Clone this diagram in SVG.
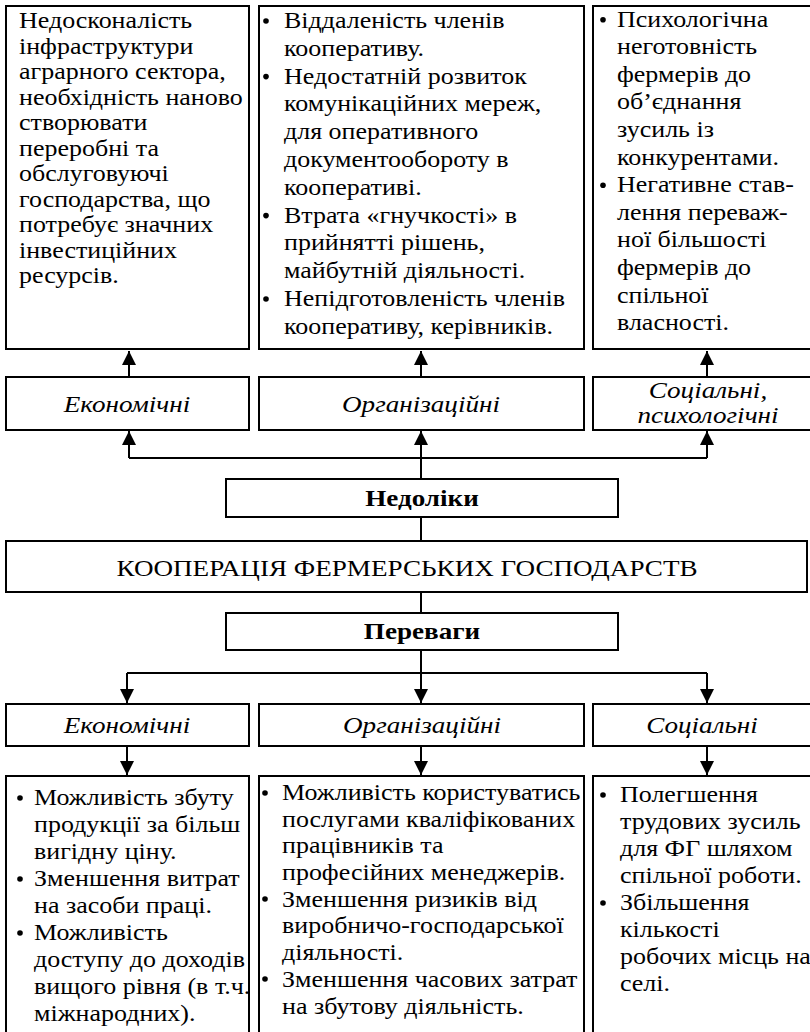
<svg xmlns="http://www.w3.org/2000/svg" width="810" height="1032" viewBox="0 0 810 1032">
<style>
.box{fill:#fff;stroke:#000;stroke-width:2}
.t{font-family:'Liberation Serif','Times New Roman',serif;font-size:23px;fill:#000}
.i{font-style:italic;text-anchor:middle;font-size:24px}
.b{font-weight:bold;text-anchor:middle;font-size:24px}
.c{text-anchor:middle;font-size:24px}
.ln{fill:none;stroke:#000;stroke-width:2}
.dot{fill:#000}
</style>
<defs>
<marker id="ah" markerUnits="userSpaceOnUse" markerWidth="15" markerHeight="15" refX="14" refY="7" orient="auto"><path d="M0,0 L14,7 L0,14 z" fill="#000"/></marker>
</defs>
<rect width="810" height="1032" fill="#fff"/>

<g id="connectors">
<path class="ln" d="M129,377 V351" marker-end="url(#ah)"/>
<path class="ln" d="M421,377 V351" marker-end="url(#ah)"/>
<path class="ln" d="M707,377 V351" marker-end="url(#ah)"/>
<path class="ln" d="M129,458 H707"/>
<path class="ln" d="M129,458 V431" marker-end="url(#ah)"/>
<path class="ln" d="M707,458 V431" marker-end="url(#ah)"/>
<path class="ln" d="M421,479 V431" marker-end="url(#ah)"/>
<path class="ln" d="M421,517 V541"/>
<path class="ln" d="M421,592 V613"/>
<path class="ln" d="M421,650 V703" marker-end="url(#ah)"/>
<path class="ln" d="M127,673 H707"/>
<path class="ln" d="M127,673 V703" marker-end="url(#ah)"/>
<path class="ln" d="M707,673 V703" marker-end="url(#ah)"/>
<path class="ln" d="M127,746 V775" marker-end="url(#ah)"/>
<path class="ln" d="M421,746 V775" marker-end="url(#ah)"/>
<path class="ln" d="M707,746 V775" marker-end="url(#ah)"/>
</g>

<g id="top-econ-content">
<rect class="box" x="6" y="6" width="243" height="343"/>
<text class="t" transform="matrix(1.13 0 0 1 -2.47 0)">
<tspan x="19" y="28.5">Недосконалість</tspan>
<tspan x="19" y="54">інфраструктури</tspan>
<tspan x="19" y="79.5">аграрного сектора,</tspan>
<tspan x="19" y="105">необхідність наново</tspan>
<tspan x="19" y="130.5">створювати</tspan>
<tspan x="19" y="156">переробні та</tspan>
<tspan x="19" y="181.5">обслуговуючі</tspan>
<tspan x="19" y="207">господарства, що</tspan>
<tspan x="19" y="232.5">потребує значних</tspan>
<tspan x="19" y="258">інвестиційних</tspan>
<tspan x="19" y="283.5">ресурсів.</tspan>
</text>
</g>

<g id="top-org-content">
<rect class="box" x="259" y="6" width="325" height="343"/>
<circle class="dot" cx="266" cy="21" r="2.8"/>
<circle class="dot" cx="266" cy="76.6" r="2.8"/>
<circle class="dot" cx="266" cy="215.6" r="2.8"/>
<circle class="dot" cx="266" cy="299" r="2.8"/>
<text class="t" transform="matrix(1.13 0 0 1 -36.92 0)">
<tspan x="284" y="28">Віддаленість членів</tspan>
<tspan x="284" y="55.8">кооперативу.</tspan>
<tspan x="284" y="83.6">Недостатній розвиток</tspan>
<tspan x="284" y="111.4">комунікаційних мереж,</tspan>
<tspan x="284" y="139.2">для оперативного</tspan>
<tspan x="284" y="167">документообороту в</tspan>
<tspan x="284" y="194.8">кооперативі.</tspan>
<tspan x="284" y="222.6">Втрата «гнучкості» в</tspan>
<tspan x="284" y="250.4">прийнятті рішень,</tspan>
<tspan x="284" y="278.2">майбутній діяльності.</tspan>
<tspan x="284" y="306">Непідготовленість членів</tspan>
<tspan x="284" y="333.8">кооперативу, керівників.</tspan>
</text>
</g>

<g id="top-soc-content">
<rect class="box" x="593" y="6" width="220" height="343"/>
<circle class="dot" cx="603" cy="19.7" r="2.8"/>
<circle class="dot" cx="603" cy="185.3" r="2.8"/>
<text class="t" transform="matrix(1.13 0 0 1 -80.21 0)">
<tspan x="617" y="26.7">Психологічна</tspan>
<tspan x="617" y="54.3">неготовність</tspan>
<tspan x="617" y="81.9">фермерів до</tspan>
<tspan x="617" y="109.5">об’єднання</tspan>
<tspan x="617" y="137.1">зусиль із</tspan>
<tspan x="617" y="164.7">конкурентами.</tspan>
<tspan x="617" y="192.3">Негативне став-</tspan>
<tspan x="617" y="219.9">лення переваж-</tspan>
<tspan x="617" y="247.5">ної більшості</tspan>
<tspan x="617" y="275.1">фермерів до</tspan>
<tspan x="617" y="302.7">спільної</tspan>
<tspan x="617" y="330.3">власності.</tspan>
</text>
</g>

<g id="top-econ-label">
<rect class="box" x="6" y="377" width="243" height="53"/>
<text class="t i" x="127" y="412" transform="matrix(1.13 0 0 1 -16.51 0)">Економічні</text>
</g>
<g id="top-org-label">
<rect class="box" x="259" y="377" width="325" height="53"/>
<text class="t i" x="421" y="412" transform="matrix(1.13 0 0 1 -54.73 0)">Організаційні</text>
</g>
<g id="top-soc-label">
<rect class="box" x="593" y="377" width="220" height="53"/>
<text class="t i" x="708" y="398" transform="matrix(1.13 0 0 1 -92.04 0)">Соціальні,</text>
<text class="t i" x="708" y="423" transform="matrix(1.13 0 0 1 -92.04 0)">психологічні</text>
</g>

<g id="nedoliky">
<rect class="box" x="226" y="479" width="392" height="38"/>
<text class="t b" x="422" y="506" transform="matrix(1.13 0 0 1 -54.86 0)">Недоліки</text>
</g>

<g id="kooperatsiia">
<rect class="box" x="6" y="541" width="801" height="51"/>
<text class="t c" x="407" y="576" transform="matrix(1.13 0 0 1 -52.91 0)">КООПЕРАЦІЯ ФЕРМЕРСЬКИХ ГОСПОДАРСТВ</text>
</g>

<g id="perevagy">
<rect class="box" x="226" y="613" width="392" height="37"/>
<text class="t b" x="422" y="639" transform="matrix(1.13 0 0 1 -54.86 0)">Переваги</text>
</g>

<g id="bot-econ-label">
<rect class="box" x="6" y="704" width="243" height="42"/>
<text class="t i" x="127" y="733" transform="matrix(1.13 0 0 1 -16.51 0)">Економічні</text>
</g>
<g id="bot-org-label">
<rect class="box" x="259" y="704" width="325" height="42"/>
<text class="t i" x="422" y="733" transform="matrix(1.13 0 0 1 -54.86 0)">Організаційні</text>
</g>
<g id="bot-soc-label">
<rect class="box" x="593" y="704" width="220" height="42"/>
<text class="t i" x="702" y="733" transform="matrix(1.13 0 0 1 -91.26 0)">Соціальні</text>
</g>

<g id="bot-econ-content">
<rect class="box" x="6" y="776" width="243" height="270"/>
<circle class="dot" cx="20" cy="798" r="2.8"/>
<circle class="dot" cx="20" cy="879" r="2.8"/>
<circle class="dot" cx="20" cy="933" r="2.8"/>
<text class="t" transform="matrix(1.13 0 0 1 -4.42 0)">
<tspan x="34" y="805">Можливість збуту</tspan>
<tspan x="34" y="832">продукції за більш</tspan>
<tspan x="34" y="859">вигідну ціну.</tspan>
<tspan x="34" y="886">Зменшення витрат</tspan>
<tspan x="34" y="913">на засоби праці.</tspan>
<tspan x="34" y="940">Можливість</tspan>
<tspan x="34" y="967">доступу до доходів</tspan>
<tspan x="34" y="994">вищого рівня (в т.ч.</tspan>
<tspan x="34" y="1021">міжнародних).</tspan>
</text>
</g>

<g id="bot-org-content">
<rect class="box" x="259" y="776" width="325" height="270"/>
<circle class="dot" cx="265" cy="793" r="2.8"/>
<circle class="dot" cx="265" cy="899" r="2.8"/>
<circle class="dot" cx="265" cy="979" r="2.8"/>
<text class="t" transform="matrix(1.13 0 0 1 -36.66 0)">
<tspan x="282" y="800">Можливість користуватись</tspan>
<tspan x="282" y="826.7">послугами кваліфікованих</tspan>
<tspan x="282" y="853.4">працівників та</tspan>
<tspan x="282" y="880.1">професійних менеджерів.</tspan>
<tspan x="282" y="906.8">Зменшення ризиків від</tspan>
<tspan x="282" y="933.5">виробничо-господарської</tspan>
<tspan x="282" y="960.2">діяльності.</tspan>
<tspan x="282" y="986.9">Зменшення часових затрат</tspan>
<tspan x="282" y="1013.6">на збутову діяльність.</tspan>
</text>
</g>

<g id="bot-soc-content">
<rect class="box" x="593" y="776" width="220" height="270"/>
<circle class="dot" cx="603" cy="795" r="2.8"/>
<circle class="dot" cx="603" cy="903" r="2.8"/>
<text class="t" transform="matrix(1.13 0 0 1 -80.6 0)">
<tspan x="620" y="802">Полегшення</tspan>
<tspan x="620" y="829">трудових зусиль</tspan>
<tspan x="620" y="856">для ФГ шляхом</tspan>
<tspan x="620" y="883">спільної роботи.</tspan>
<tspan x="620" y="910">Збільшення</tspan>
<tspan x="620" y="937">кількості</tspan>
<tspan x="620" y="964">робочих місць на</tspan>
<tspan x="620" y="991">селі.</tspan>
</text>
</g>
</svg>
